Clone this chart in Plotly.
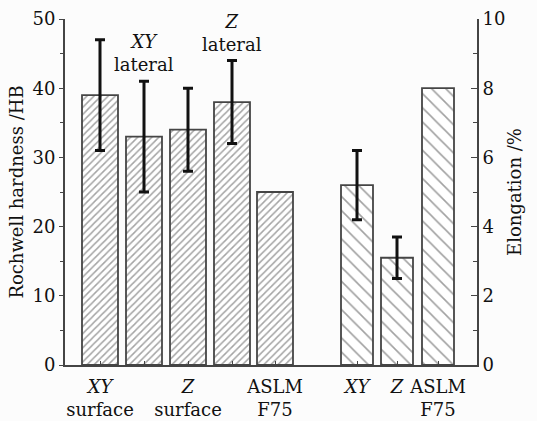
import plotly.graph_objects as go

# ---- data ----
hard_labels = ["<i>XY</i><br>surface", "", "<i>Z</i><br>surface", "", "ASLM<br>F75"]
hardness = [39, 33, 34, 38, 25]
hard_err = [8, 8, 6, 6, None]
elong_labels = ["<i>XY</i>", "<i>Z</i>", "ASLM<br>F75"]
elongation = [5.2, 3.1, 8.0]
elong_err = [1.0, 0.6, None]
top_notes = [(1, "<i>XY</i><br>lateral"), (3, "<i>Z</i><br>lateral")]

# ---- layout positions (px-like units along x) ----
hard_pos = [35, 79, 123, 167, 210]
elong_pos = [292, 332, 373]

FONT = "DejaVu Serif"
fs = 18
ink = "#111111"
edge = "#454545"

fig = go.Figure()

fig.add_trace(go.Bar(
    x=hard_pos, y=hardness, width=36, yaxis="y",
    marker=dict(color="white", line=dict(color=edge, width=1.8),
                pattern=dict(shape="/", size=5, solidity=0.3, fgcolor="#4a4a4a", bgcolor="white")),
    showlegend=False,
))
fig.add_trace(go.Bar(
    x=elong_pos, y=elongation, width=32, yaxis="y2",
    marker=dict(color="white", line=dict(color=edge, width=1.8),
                pattern=dict(shape="\\", size=10, solidity=0.16, fgcolor="#444444", bgcolor="white")),
    showlegend=False,
))

# error bars
hx = [p for p, e in zip(hard_pos, hard_err) if e is not None]
hy = [v for v, e in zip(hardness, hard_err) if e is not None]
he = [e for e in hard_err if e is not None]
fig.add_trace(go.Scatter(
    x=hx, y=hy, mode="markers", yaxis="y",
    marker=dict(size=1, color="rgba(0,0,0,0)"),
    error_y=dict(type="data", array=he, visible=True, color="#111", thickness=3, width=5),
    showlegend=False, hoverinfo="skip",
))
ex = [p for p, e in zip(elong_pos, elong_err) if e is not None]
ey = [v for v, e in zip(elongation, elong_err) if e is not None]
ee = [e for e in elong_err if e is not None]
fig.add_trace(go.Scatter(
    x=ex, y=ey, mode="markers", yaxis="y2",
    marker=dict(size=1, color="rgba(0,0,0,0)"),
    error_y=dict(type="data", array=ee, visible=True, color="#111", thickness=3, width=5),
    showlegend=False, hoverinfo="skip",
))

annotations = []
for i, txt in top_notes:
    annotations.append(dict(
        x=hard_pos[i], y=hardness[i] + hard_err[i], xref="x", yref="y",
        text=txt, showarrow=False, yanchor="bottom", yshift=4,
        font=dict(family=FONT, size=fs, color=ink),
    ))

fig.update_layout(
    width=537, height=421,
    margin=dict(l=65, r=60, t=19, b=56),
    paper_bgcolor="#fcfcfc", plot_bgcolor="#fcfcfc",
    barmode="overlay",
    font=dict(family=FONT, size=fs, color=ink),
    annotations=annotations,
    xaxis=dict(
        range=[0, 412], showgrid=False, zeroline=False, automargin=False,
        showline=True, linecolor="#444", linewidth=1.8,
        tickmode="array", tickvals=hard_pos + elong_pos,
        ticktext=hard_labels + elong_labels,
        ticks="inside", ticklen=4, tickcolor="#444", tickwidth=1.2,
        ticklabelstandoff=4,
        tickfont=dict(family=FONT, size=fs, color=ink),
    ),
    yaxis=dict(
        range=[0, 50], showgrid=False, zeroline=False, automargin=False,
        showline=True, linecolor="#444", linewidth=1.8,
        tickvals=[0, 10, 20, 30, 40, 50],
        ticks="outside", ticklen=4, tickcolor="#444", tickwidth=1.2,
        minor=dict(ticks="outside", ticklen=3, dtick=5, tickcolor="#444", tickwidth=1.2),
        tickfont=dict(family=FONT, size=fs, color=ink),
        title=dict(text="Rochwell hardness /HB", font=dict(family=FONT, size=fs, color=ink), standoff=4),
    ),
    yaxis2=dict(
        range=[0, 10], overlaying="y", side="right", anchor="x", automargin=False,
        showgrid=False, zeroline=False,
        showline=True, linecolor="#444", linewidth=1.8,
        tickvals=[0, 2, 4, 6, 8, 10],
        ticks="inside", ticklen=6, tickcolor="#444", tickwidth=1.2,
        minor=dict(ticks="inside", ticklen=4, dtick=1, tickcolor="#444", tickwidth=1.2),
        tickfont=dict(family=FONT, size=fs, color=ink),
        title=dict(text="Elongation /%", font=dict(family=FONT, size=fs, color=ink), standoff=4),
    ),
)

fig.write_html("out.html")
